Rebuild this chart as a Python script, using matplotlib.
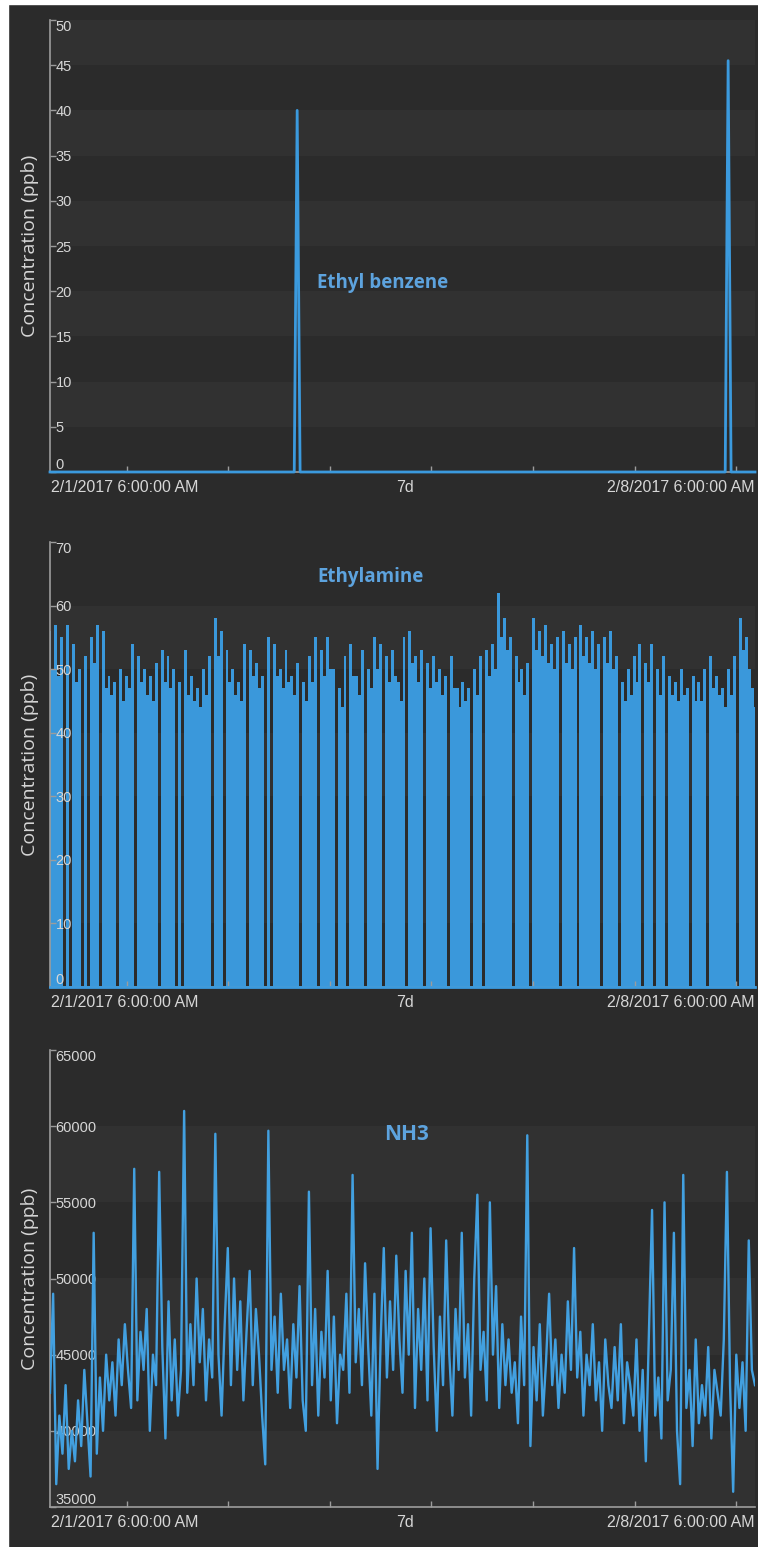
import matplotlib.pyplot as plt
import numpy as np
from matplotlib.patches import Rectangle

# time axis is in hours over the 7 day window
span_hours = 168
x_tick_hours = [18.3, 42.5, 66.7, 90.9, 115.1, 139.3, 163.5]
start_label = "2/1/2017 6:00:00 AM"
mid_label = "7d"
end_label = "2/8/2017 6:00:00 AM"

# Ethyl benzene: flat zero with two short spikes
eb_hours = [0, 58.2, 58.9, 59.6, 160.9, 161.6, 162.3, 168]
eb_ppb = [0, 0, 40, 0, 0, 45.5, 0, 0]
eb_ticks = [0, 5, 10, 15, 20, 25, 30, 35, 40, 45, 50]

# Ethylamine: local maxima and the minima that follow them
ea_high = [56, 57, 55, 57, 54, 50, 52, 55, 57, 56,
           49, 48, 50, 49, 54, 52, 50, 49, 51, 53,
           52, 50, 48, 53, 49, 47, 50, 52, 58, 56,
           53, 50, 48, 54, 53, 51, 49, 55, 54, 50,
           53, 49, 51, 48, 52, 55, 53, 55, 50, 47,
           52, 54, 49, 53, 50, 55, 54, 52, 53, 48,
           55, 56, 52, 53, 51, 52, 50, 49, 52, 47,
           48, 47, 50, 52, 53, 54, 62, 58, 55, 52,
           50, 51, 58, 56, 57, 54, 55, 56, 54, 55,
           57, 55, 56, 54, 55, 56, 52, 48, 50, 52,
           54, 51, 54, 50, 52, 49, 48, 50, 47, 49,
           48, 50, 52, 49, 47, 50, 52, 58, 55, 47]
ea_low = [50, 49, 0, 0, 48, 0, 0, 51, 0, 47,
          46, 0, 45, 47, 0, 48, 46, 45, 0, 48,
          47, 0, 0, 46, 45, 44, 46, 0, 52, 0,
          48, 46, 45, 0, 49, 47, 0, 0, 49, 47,
          48, 46, 0, 45, 48, 0, 49, 50, 0, 44,
          0, 49, 46, 0, 47, 50, 0, 48, 49, 45,
          0, 51, 48, 0, 47, 48, 46, 0, 47, 44,
          45, 0, 46, 0, 49, 50, 55, 53, 0, 48,
          46, 0, 53, 52, 51, 50, 0, 51, 50, 0,
          52, 51, 50, 0, 51, 50, 0, 45, 46, 48,
          0, 48, 0, 46, 0, 46, 45, 46, 0, 45,
          45, 0, 47, 46, 44, 46, 0, 53, 50, 44]
ea_ticks = [0, 10, 20, 30, 40, 50, 60, 70]

# NH3 in thousands of ppb
nh3_kppb = [42.5, 49.0, 36.5, 41.0, 38.5, 43.0, 37.5,
            40.0, 38.0, 42.0, 39.0, 44.0, 40.5, 37.0,
            53.0, 38.5, 43.5, 40.0, 45.0, 42.0, 44.5,
            41.0, 46.0, 43.0, 47.0, 44.0, 41.5, 57.2,
            42.0, 46.5, 44.0, 48.0, 40.0, 45.0, 43.0,
            57.0, 45.5, 39.5, 48.5, 42.0, 46.0, 41.0,
            44.0, 61.0, 42.5, 47.0, 43.0, 50.0, 44.5,
            48.0, 42.0, 46.0, 43.5, 59.5, 45.0, 41.0,
            47.0, 52.0, 43.0, 50.0, 44.0, 48.5, 42.0,
            46.5, 50.5, 43.0, 48.0, 45.0, 41.0, 37.8,
            59.7, 44.0, 47.5, 42.5, 49.0, 44.0, 46.0,
            41.5, 47.0, 43.5, 49.5, 42.0, 40.0, 55.7,
            43.0, 48.0, 41.0, 46.5, 43.5, 50.5, 42.0,
            47.5, 40.5, 45.0, 44.0, 49.0, 42.5, 56.8,
            44.5, 48.0, 43.0, 51.0, 45.5, 41.0, 49.0,
            37.5, 46.0, 52.0, 43.5, 48.5, 44.0, 51.5,
            46.0, 42.5, 50.5, 45.0, 53.0, 41.5, 48.0,
            44.0, 50.0, 42.0, 53.3, 45.5, 40.0, 47.5,
            43.0, 52.5, 45.0, 41.0, 48.0, 44.0, 53.0,
            43.5, 47.0, 41.0, 50.0, 55.5, 44.0, 46.5,
            42.0, 55.0, 45.0, 49.5, 41.5, 47.0, 43.0,
            46.0, 42.5, 44.5, 40.5, 47.5, 43.0, 59.4,
            39.0, 45.5, 42.0, 47.0, 41.0, 44.5, 49.0,
            43.0, 46.0, 41.5, 45.0, 42.5, 48.5, 44.0,
            52.0, 43.5, 46.5, 41.0, 45.0, 43.0, 47.0,
            42.0, 44.5, 40.0, 46.0, 43.0, 41.5, 45.5,
            42.0, 47.0, 40.5, 44.5, 43.0, 41.0, 46.0,
            40.0, 44.0, 38.0, 46.5, 54.5, 41.0, 43.5,
            39.5, 55.0, 42.0, 44.0, 53.0, 40.0, 36.5,
            56.8, 41.5, 44.0, 39.0, 46.0, 40.5, 43.0,
            41.0, 45.5, 39.5, 44.0, 42.5, 41.0, 46.0,
            57.0, 43.0, 36.0, 45.0, 41.5, 44.5, 40.0,
            52.5, 44.0, 43.0]
nh3_ticks = [35000, 40000, 45000, 50000, 55000, 60000, 65000]

bg = '#2b2b2b'
band = '#313131'
axis_col = '#9c9c9c'
text_col = '#d6d6d6'
line_col = '#3b9ade'
title_col = '#5da3de'

fig = plt.figure(figsize=(7.58, 15.47), dpi=100, facecolor=bg)
W, H = 758, 1547


def make_axes(top, bottom):
    return fig.add_axes([50 / W, 1 - bottom / H, 705 / W, (bottom - top) / H])


def style(ax, yticks, light_top):
    ax.set_facecolor(bg)
    ax.set_axisbelow(False)  # tick labels sit on top of the data
    ax.set_xlim(0, span_hours)
    ax.set_ylim(yticks[0], yticks[-1])
    n = len(yticks) - 1
    for k in range(n):
        from_top = n - 1 - k
        if (from_top % 2 == 0) == light_top:
            ax.axhspan(yticks[k], yticks[k + 1], color=band, lw=0, zorder=0)
    for s in ['top', 'right']:
        ax.spines[s].set_visible(False)
    for s in ['left', 'bottom']:
        ax.spines[s].set_color(axis_col)
        ax.spines[s].set_linewidth(1.2)
    ax.set_yticks(yticks)
    ax.set_yticklabels([str(t) for t in yticks])
    ax.tick_params(axis='y', direction='in', length=4, width=1, pad=-4,
                   colors=axis_col, labelcolor=text_col, labelsize=10.5)
    labels = ax.get_yticklabels()
    for lbl in labels:
        lbl.set_ha('left')
        lbl.set_fontfamily('Liberation Sans')
    labels[0].set_va('bottom')
    labels[-1].set_va('top')
    ax.set_xticks(x_tick_hours)
    ax.set_xticklabels([])
    ax.tick_params(axis='x', direction='in', length=4, width=1, colors=axis_col)
    ax.text(-0.028, 0.5, 'Concentration (ppb)', transform=ax.transAxes,
            rotation=90, ha='center', va='center', color=text_col,
            fontsize=14, family='Open Sans')
    kw = dict(xycoords='axes fraction', textcoords='offset points',
              va='center', color=text_col, fontsize=11.5, family='Liberation Sans')
    ax.annotate(start_label, xy=(0, 0), xytext=(1, -11), ha='left', **kw)
    ax.annotate(mid_label, xy=(0.5035, 0), xytext=(0, -11), ha='center', **kw)
    ax.annotate(end_label, xy=(1, 0), xytext=(0, -11), ha='right', **kw)


# panel 1
ax1 = make_axes(20, 472)
style(ax1, eb_ticks, light_top=True)
ax1.plot(eb_hours, eb_ppb, color=line_col, lw=2, clip_on=False, zorder=3)
ax1.text(0.472, 0.418, 'Ethyl benzene', transform=ax1.transAxes, ha='center',
         va='center', color=title_col, fontsize=13.5, fontweight='bold',
         family='Open Sans')

# panel 2: samples are denser than the pixels, so it reads as a filled band
ax2 = make_axes(542, 987)
style(ax2, ea_ticks, light_top=False)
ea_series = np.column_stack([ea_high, ea_low]).ravel()
ea_hours = np.linspace(0, span_hours, len(ea_series))
ax2.fill_between(ea_hours, 0, ea_series, step='mid', color='#3a98db', lw=0,
                 zorder=2)
ax2.plot([0, span_hours], [0, 0], color=line_col, lw=2, clip_on=False, zorder=3)
ax2.text(0.454, 0.921, 'Ethylamine', transform=ax2.transAxes, ha='center',
         va='center', color=title_col, fontsize=13.5, fontweight='bold',
         family='Open Sans')

# panel 3
ax3 = make_axes(1050, 1507)
style(ax3, nh3_ticks, light_top=False)
nh3_ppb = np.array(nh3_kppb) * 1000
nh3_hours = np.linspace(0, span_hours, len(nh3_ppb))
ax3.plot(nh3_hours, nh3_ppb, color='#42a0e0', lw=1.7, zorder=3)
ax3.text(0.506, 0.816, 'NH3', transform=ax3.transAxes, ha='center',
         va='center', color=title_col, fontsize=15, fontweight='bold',
         family='Open Sans')

# white margin at the top and left of the screenshot
fig.patches.append(Rectangle((0, 1 - 4 / H), 1, 4 / H, transform=fig.transFigure,
                             color='white', zorder=10))
fig.patches.append(Rectangle((0, 0), 8 / W, 1, transform=fig.transFigure,
                             color='white', zorder=10))

fig.savefig('out.png', dpi=100, facecolor=bg)
